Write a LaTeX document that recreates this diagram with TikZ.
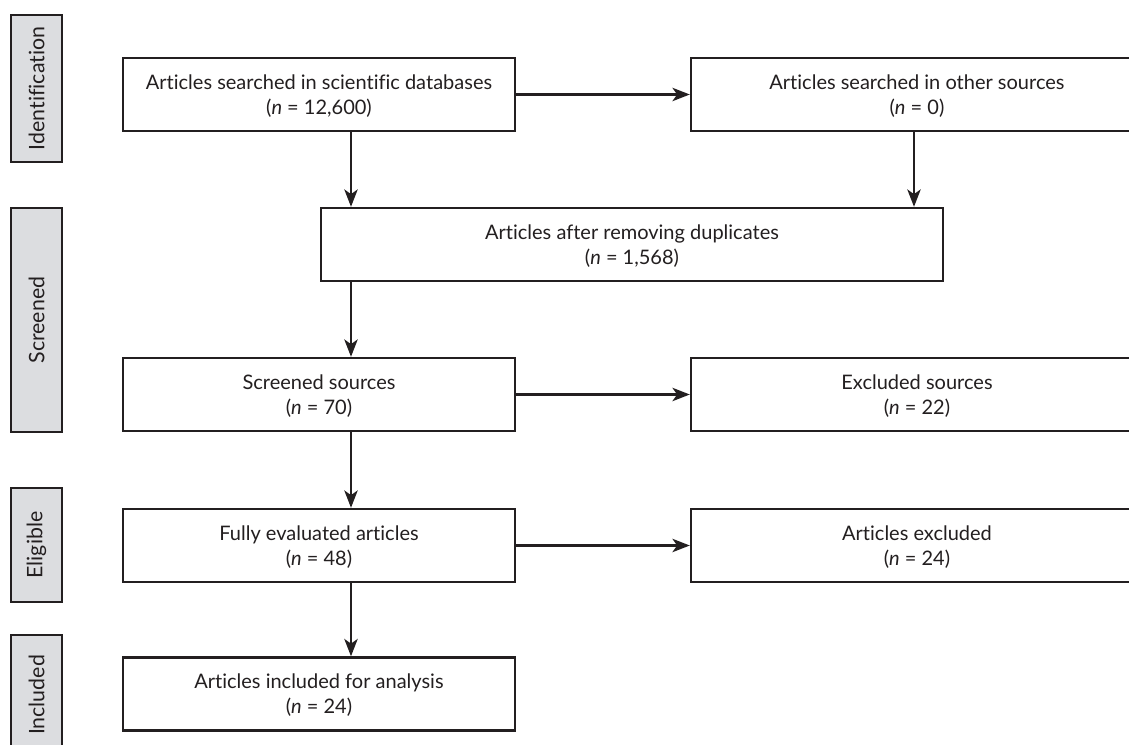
\documentclass[tikz,border=0pt]{standalone}
\usepackage{fontspec}
\setmainfont{Lato}[Ligatures=NoCommon]
\usetikzlibrary{arrows.meta}
\definecolor{ink}{HTML}{231F20}
\definecolor{labgray}{HTML}{DCDDE0}
\begin{document}
\begin{tikzpicture}[x=0.75pt,y=-0.75pt,
  box/.style={draw=ink,line width=1.8pt,fill=white,align=center,inner sep=0pt,
    text=ink,text depth=0pt,font=\fontsize{15}{18.75}\selectfont},
  stage/.style={draw=ink,line width=1.8pt,fill=labgray,inner sep=0pt},
  stagetext/.style={rotate=90,text=ink,font=\fontsize{16}{18}\selectfont},
  arr/.style={draw=ink,line width=1.8pt,-{Stealth[length=13pt,width=10pt,inset=3.5pt]}}]
\useasboundingbox (0,0) rectangle (1129,745);
\clip (0,0) rectangle (1129,745);
% stage labels
\node[stage,minimum width=38.25pt,minimum height=110.25pt] (s1) at (36.5,88.5) {};
\node[stagetext] (t1) at (s1.center) {Identification};
\node[stage,minimum width=38.25pt,minimum height=168pt] (s2) at (36.5,320) {};
\node[stagetext] (t2) at (s2.center) {Screened};
\node[stage,minimum width=38.25pt,minimum height=85.5pt] (s3) at (36.5,545) {};
\node[stagetext] (t3) at (s3.center) {Eligible};
\node[stage,minimum width=38.25pt,minimum height=90pt] (s4) at (36.5,695) {};
\node[stagetext] (t4) at (s4.center) {Included};
% boxes
\node[box,minimum width=294pt,minimum height=54.75pt] (A) at (319,94.5)
  {Articles searched in scientific databases\\(\textit{n} = 12,600)};
\node[box,minimum width=339pt,minimum height=54.75pt] (B) at (917,94.5)
  {Articles searched in other sources\\(\textit{n} = 0)};
\node[box,minimum width=466.5pt,minimum height=54.75pt] (C) at (632,244.5)
  {Articles after removing duplicates\\(\textit{n} = 1,568)};
\node[box,minimum width=294pt,minimum height=54.75pt] (D) at (319,394.5)
  {Screened sources\\(\textit{n} = 70)};
\node[box,minimum width=339pt,minimum height=54.75pt] (E) at (917,394.5)
  {Excluded sources\\(\textit{n} = 22)};
\node[box,minimum width=294pt,minimum height=54.75pt] (F) at (319,545.5)
  {Fully evaluated articles\\(\textit{n} = 48)};
\node[box,minimum width=339pt,minimum height=54.75pt] (G) at (917,545.5)
  {Articles excluded\\(\textit{n} = 24)};
\node[box,minimum width=294pt,minimum height=54.75pt] (H) at (319,694)
  {Articles included for analysis\\(\textit{n} = 24)};
\coordinate (col) at (351,0);
\coordinate (colB) at (914,0);
% connectors
\draw[arr] (A.east) -- (B.west);
\draw[arr] (A.south -| col) -- (C.north -| col);
\draw[arr] (B.south -| colB) -- (C.north -| colB);
\draw[arr] (C.south -| col) -- (D.north -| col);
\draw[arr] (D.east) -- (E.west);
\draw[arr] (D.south -| col) -- (F.north -| col);
\draw[arr] (F.east) -- (G.west);
\draw[arr] (F.south -| col) -- (H.north -| col);
\end{tikzpicture}
\end{document}
